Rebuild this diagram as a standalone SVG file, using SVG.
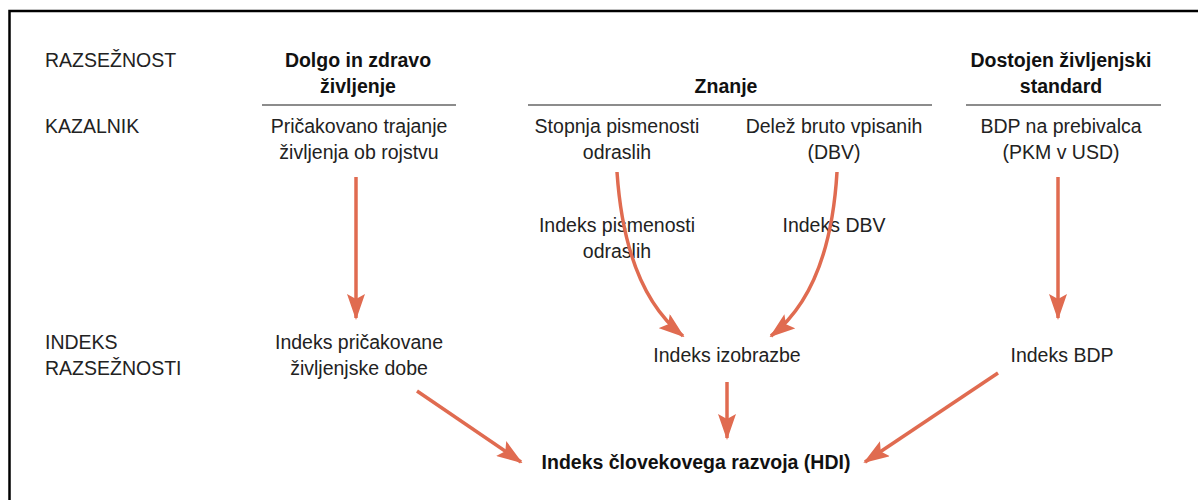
<svg xmlns="http://www.w3.org/2000/svg" width="1198" height="500" viewBox="0 0 1198 500">
<style>
text{font-family:"Liberation Sans",Arial,sans-serif;font-size:19.5px;fill:#222;text-anchor:middle}
.l{text-anchor:start}
.b{font-weight:bold;fill:#111}
.rule{stroke:#666;stroke-width:1.5}
.arr{stroke:#E06B50;stroke-width:3.5;fill:none;marker-end:url(#ah)}
</style>
<defs>
<marker id="ah" viewBox="0 0 26 18" refX="24" refY="9" markerWidth="26" markerHeight="18" orient="auto" markerUnits="userSpaceOnUse">
<path d="M0,0 L26,9 L0,18 L5,9 z" fill="#E06B50"/>
</marker>
</defs>
<rect width="1198" height="500" fill="#fff"/>
<path d="M9.5,500 V11 H1198" fill="none" stroke="#000" stroke-width="2.5"/>
<g id="row-labels">
<text class="l" x="45" y="67">RAZSEŽNOST</text>
<text class="l" x="45" y="133">KAZALNIK</text>
<text class="l" x="45" y="349">INDEKS</text>
<text class="l" x="45" y="375">RAZSEŽNOSTI</text>
</g>
<g id="dim-health">
<text class="b" x="358" y="67">Dolgo in zdravo</text>
<text class="b" x="358" y="93">življenje</text>
<line class="rule" x1="262" y1="105" x2="456" y2="105"/>
</g>
<g id="dim-knowledge">
<text class="b" x="726" y="93">Znanje</text>
<line class="rule" x1="528" y1="105" x2="932" y2="105"/>
</g>
<g id="dim-standard">
<text class="b" x="1061" y="67">Dostojen življenjski</text>
<text class="b" x="1061" y="93">standard</text>
<line class="rule" x1="966" y1="105" x2="1161" y2="105"/>
</g>
<g id="ind-life">
<text x="359" y="133">Pričakovano trajanje</text>
<text x="359" y="159">življenja ob rojstvu</text>
</g>
<g id="ind-literacy">
<text x="617" y="133">Stopnja pismenosti</text>
<text x="617" y="159">odraslih</text>
</g>
<g id="ind-enrol">
<text x="834" y="133">Delež bruto vpisanih</text>
<text x="834" y="159">(DBV)</text>
</g>
<g id="ind-gdp">
<text x="1061" y="133">BDP na prebivalca</text>
<text x="1061" y="159">(PKM v USD)</text>
</g>
<g id="idx-literacy">
<text x="617" y="232">Indeks pismenosti</text>
<text x="617" y="258">odraslih</text>
</g>
<g id="idx-dbv">
<text x="834" y="232">Indeks DBV</text>
</g>
<g id="idx-life">
<text x="359" y="349">Indeks pričakovane</text>
<text x="359" y="375">življenjske dobe</text>
</g>
<g id="idx-edu">
<text x="727" y="362">Indeks izobrazbe</text>
</g>
<g id="idx-gdp">
<text x="1062" y="362">Indeks BDP</text>
</g>
<g id="hdi">
<text class="b" x="696" y="469">Indeks človekovega razvoja (HDI)</text>
</g>
<g id="connectors">
<path class="arr" d="M356,177 V318"/>
<path class="arr" d="M1058,177 V318"/>
<path class="arr" d="M617,172 Q625,290 683,336"/>
<path class="arr" d="M837,172 Q830,290 771,336"/>
<path class="arr" d="M727,382 V438"/>
<path class="arr" d="M417,391 L521,462"/>
<path class="arr" d="M998,373 L865,462"/>
</g>
</svg>
